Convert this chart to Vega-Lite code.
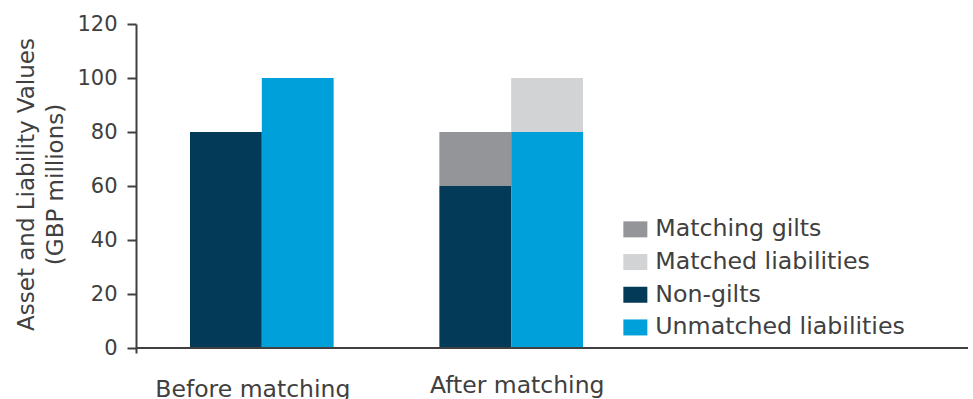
{
  "$schema": "https://vega.github.io/schema/vega-lite/v6.json",
  "width": 832,
  "height": 329,
  "autosize": {"type": "none"},
  "padding": {"left": 136, "top": 24, "right": 5, "bottom": 46},
  "background": "white",
  "config": {
    "view": {"stroke": null},
    "font": "DejaVu Sans"
  },
  "data": {
    "values": [
      {"stage": "Before matching", "side": "Assets", "component": "Non-gilts", "value": 80},
      {"stage": "Before matching", "side": "Liabilities", "component": "Unmatched liabilities", "value": 100},
      {"stage": "After matching", "side": "Assets", "component": "Non-gilts", "value": 60},
      {"stage": "After matching", "side": "Assets", "component": "Matching gilts", "value": 20},
      {"stage": "After matching", "side": "Liabilities", "component": "Unmatched liabilities", "value": 80},
      {"stage": "After matching", "side": "Liabilities", "component": "Matched liabilities", "value": 20}
    ]
  },
  "layer": [
    {
      "mark": {"type": "bar", "strokeWidth": 0},
      "encoding": {
        "x": {
          "field": "stage",
          "type": "nominal",
          "sort": ["Before matching", "After matching"],
          "scale": {"range": [54, 447], "paddingInner": 0.424, "paddingOuter": 0},
          "axis": {
            "title": null,
            "domain": false,
            "ticks": false,
            "tickSize": 0,
            "labelAngle": 0,
            "labelFontSize": 23.5,
            "labelColor": "#404040",
            "labelBaseline": "top",
            "labelFlush": false,
            "labelOverlap": false,
            "labelLimit": 0,
            "labelPadding": {"condition": {"test": "datum.value === 'Before matching'", "value": 24}, "value": 20},
            "labelOffset": {"condition": {"test": "datum.value === 'Before matching'", "value": -9}, "value": 6}
          }
        },
        "xOffset": {
          "field": "side",
          "type": "nominal",
          "sort": ["Assets", "Liabilities"],
          "scale": {"paddingInner": 0, "paddingOuter": 0}
        },
        "y": {
          "field": "value",
          "type": "quantitative",
          "stack": "zero",
          "scale": {"domain": [-1.85, 120], "nice": false, "zero": false},
          "axis": {
            "values": [0, 20, 40, 60, 80, 100, 120],
            "grid": false,
            "title": ["Asset and Liability Values", "(GBP millions)"],
            "titleFontSize": 23,
            "titleFontWeight": "normal",
            "titleColor": "#404040",
            "titleAngle": -90,
            "titleX": -103,
            "titleY": 160,
            "titleAlign": "center",
            "titleBaseline": "alphabetic",
            "titleLineHeight": 29,
            "labelFontSize": 21,
            "labelColor": "#404040",
            "labelPadding": 10,
            "tickSize": 9,
            "tickWidth": 2,
            "tickColor": "#404040",
            "domainColor": "#404040",
            "domainWidth": 2
          }
        },
        "color": {
          "field": "component",
          "type": "nominal",
          "scale": {
            "domain": ["Matching gilts", "Matched liabilities", "Non-gilts", "Unmatched liabilities"],
            "range": ["#939598", "#d1d3d4", "#023a58", "#00a0da"]
          },
          "legend": {
            "title": null,
            "orient": "none",
            "legendX": 487.5,
            "legendY": 193.5,
            "padding": 0,
            "symbolType": "M-1.5,-1H1.5V1H-1.5Z",
            "symbolSize": 256,
            "symbolStrokeWidth": 0,
            "symbolOpacity": 1,
            "labelFontSize": 23.7,
            "labelColor": "#404040",
            "labelOffset": 8,
            "labelLimit": 400,
            "rowPadding": 7.7
          }
        },
        "order": {"field": "value", "sort": "descending"}
      }
    },
    {
      "data": {"values": [{"level": 0}]},
      "mark": {"type": "rule", "color": "#404040", "strokeWidth": 2},
      "encoding": {
        "y": {"field": "level", "type": "quantitative"}
      }
    }
  ]
}
